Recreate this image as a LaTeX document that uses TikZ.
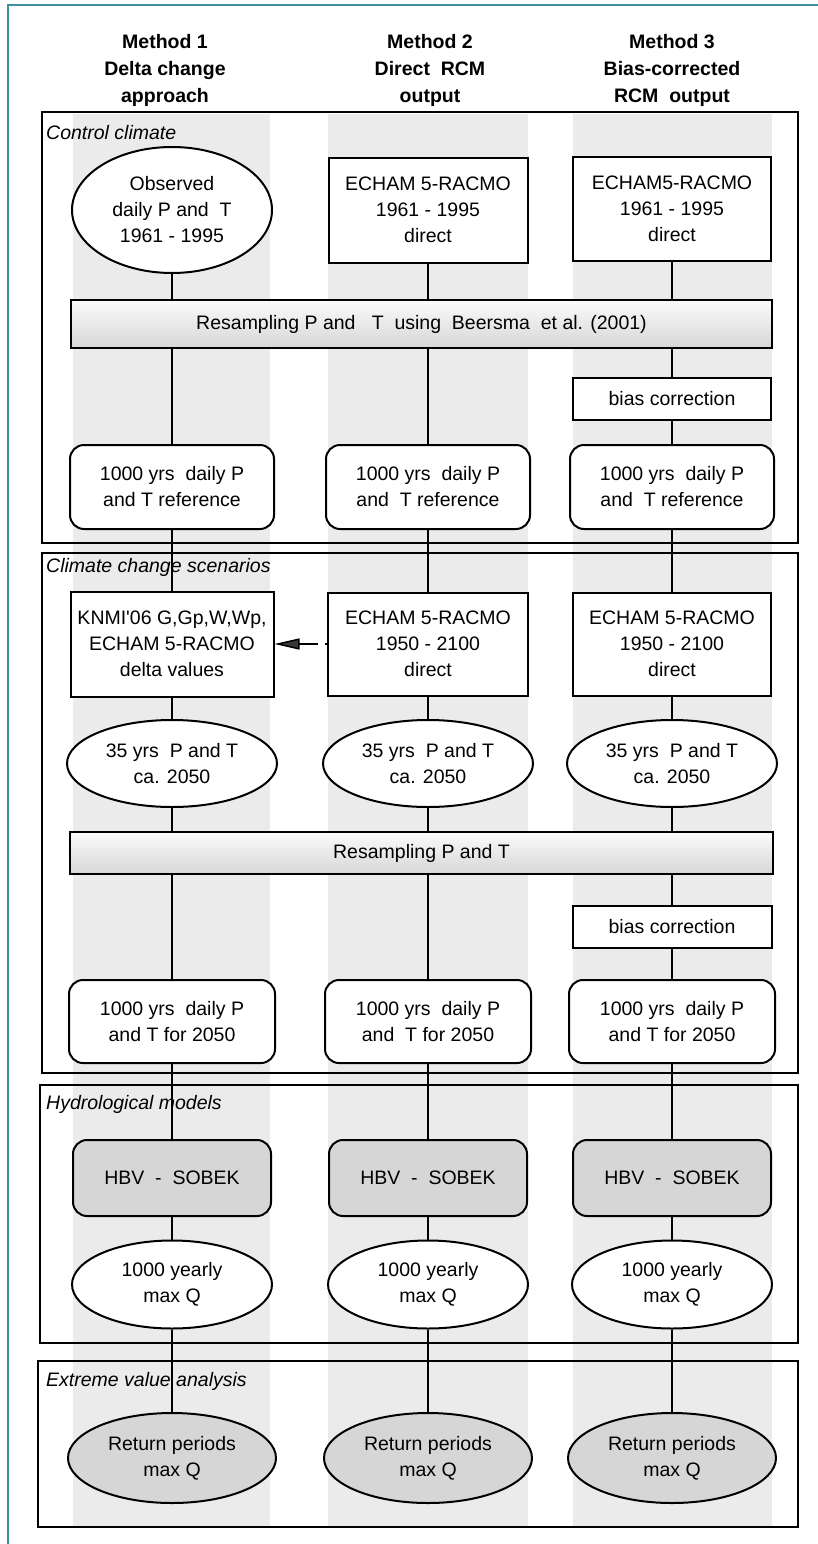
\documentclass[tikz,border=0pt]{standalone}
\usepackage{fontspec}
\setmainfont[Ligatures=TeXOff]{Liberation Sans}
\usetikzlibrary{shapes.geometric,arrows.meta}
\pgfdeclarelayer{stripes}
\pgfdeclarelayer{links}
\pgfsetlayers{stripes,links,main}
\definecolor{frameteal}{HTML}{3E8FA0}
\definecolor{stripegray}{HTML}{EBEBEB}
\definecolor{modelgray}{HTML}{D6D6D6}
\begin{document}
\begin{tikzpicture}[x=1pt,y=-1pt,
  every node/.style={font=\fontsize{19.5}{26}\selectfont, align=center, inner sep=0pt},
  procbox/.style={rectangle, draw, line width=2pt, fill=white},
  roundbox/.style={rectangle, rounded corners=14pt, draw, line width=2pt, fill=white},
  ovalnode/.style={ellipse, draw, line width=2pt, fill=white},
  modelbox/.style={roundbox, fill=modelgray},
  resultnode/.style={ovalnode, fill=modelgray},
  barbox/.style={rectangle, draw, line width=2pt, top color=gray!3, bottom color=gray!32},
  section/.style={draw, line width=2.2pt},
  seclabel/.style={anchor=west, font=\fontsize{19.5}{24}\selectfont\itshape},
  header/.style={font=\fontsize{19.5}{27}\selectfont\bfseries},
  link/.style={line width=2pt},
  dasharrow/.style={line width=2pt, dash pattern=on 2pt off 7pt on 24pt off 40pt,
     -{Triangle[length=25pt,width=11pt,fill=gray!45!black,line width=1.5pt]}},
  stripe/.style={fill=stripegray, draw=none}
]
\useasboundingbox (0,0) rectangle (818,1544);

% stripes
\begin{pgfonlayer}{stripes}
\fill[stripe] (73,114) rectangle (270,1526);
\fill[stripe] (328,114) rectangle (528,1526);
\fill[stripe] (573,114) rectangle (772,1526);
\end{pgfonlayer}

% teal frame
\draw[frameteal, line width=1.6pt] (8,1544) -- (8,5) -- (818,5);

% headers
\node[header] (h1) at (165,70) {Method 1\\Delta change\\approach};
\node[header] (h2) at (430,70) {Method 2\\Direct~ RCM\\output};
\node[header] (h3) at (672,70) {Method 3\\Bias-corrected\\RCM~ output};

% section frames
\draw[section] (42,112) rectangle (798,543);
\draw[section] (42,553) rectangle (798,1073);
\draw[section] (40,1085) rectangle (798,1343);
\draw[section] (38,1361) rectangle (798,1527);

\begin{pgfonlayer}{stripes}
\node[seclabel] (lab1) at (46,133) {Control climate};
\node[seclabel] (lab2) at (46,567) {Climate change scenarios};
\node[seclabel] (lab3) at (46,1104) {Hydrological models};
\node[seclabel] (lab4) at (46,1381) {Extreme value analysis};
\end{pgfonlayer}

% row 1
\node[ovalnode, minimum width=200pt, minimum height=126pt] (obs) at (172,210) {Observed\\daily P and~ T\\1961 - 1995};
\node[procbox, minimum width=199pt, minimum height=105pt] (echB) at (428,210) {ECHAM 5-RACMO\\1961 - 1995\\direct};
\node[procbox, minimum width=198pt, minimum height=104pt] (echC) at (672,209) {ECHAM5-RACMO\\1961 - 1995\\direct};

\node[barbox, minimum width=701pt, minimum height=48pt] (bar1) at (421.5,324) {Resampling P and~~ T~ using~ Beersma~ et al. (2001)};
\node[procbox, minimum width=198pt, minimum height=42pt] (biasA) at (672,399) {bias correction};

\node[roundbox, minimum width=204pt, minimum height=84pt] (refA) at (172,487) {1000 yrs~ daily P\\and T reference};
\node[roundbox, minimum width=204pt, minimum height=84pt] (refB) at (428,487) {1000 yrs~ daily P\\and~ T reference};
\node[roundbox, minimum width=204pt, minimum height=84pt] (refC) at (672,487) {1000 yrs~ daily P\\and~ T reference};

% row 2
\node[procbox, minimum width=203pt, minimum height=105pt] (knmi) at (172,644) {KNMI'06 G,Gp,W,Wp,\\ECHAM 5-RACMO\\delta values};
\node[procbox, minimum width=200pt, minimum height=103pt] (futB) at (428,644) {ECHAM 5-RACMO\\1950 - 2100\\direct};
\node[procbox, minimum width=198pt, minimum height=103pt] (futC) at (672,644) {ECHAM 5-RACMO\\1950 - 2100\\direct};

\node[ovalnode, minimum width=210pt, minimum height=87pt] (yrsA) at (172,763.5) {35 yrs~ P and T\\ca. 2050};
\node[ovalnode, minimum width=210pt, minimum height=87pt] (yrsB) at (428,763.5) {35 yrs~ P and T\\ca. 2050};
\node[ovalnode, minimum width=210pt, minimum height=87pt] (yrsC) at (672,763.5) {35 yrs~ P and T\\ca. 2050};

\node[barbox, minimum width=703pt, minimum height=42pt] (bar2) at (421.5,853) {Resampling P and T};
\node[procbox, minimum width=199pt, minimum height=42pt] (biasB) at (672,927) {bias correction};

\node[roundbox, minimum width=206pt, minimum height=83pt] (newA) at (172,1021.5) {1000 yrs~ daily P\\and T for 2050};
\node[roundbox, minimum width=206pt, minimum height=83pt] (newB) at (428,1021.5) {1000 yrs~ daily P\\and~ T for 2050};
\node[roundbox, minimum width=206pt, minimum height=83pt] (newC) at (672,1021.5) {1000 yrs~ daily P\\and T for 2050};

% hydrology
\node[modelbox, minimum width=198pt, minimum height=76pt] (hbvA) at (172,1178) {HBV~ -~ SOBEK};
\node[modelbox, minimum width=198pt, minimum height=76pt] (hbvB) at (428,1178) {HBV~ -~ SOBEK};
\node[modelbox, minimum width=198pt, minimum height=76pt] (hbvC) at (672,1178) {HBV~ -~ SOBEK};

\node[ovalnode, minimum width=200pt, minimum height=88pt] (qA) at (172,1284.5) {1000 yearly\\max Q};
\node[ovalnode, minimum width=200pt, minimum height=88pt] (qB) at (428,1284.5) {1000 yearly\\max Q};
\node[ovalnode, minimum width=200pt, minimum height=88pt] (qC) at (672,1284.5) {1000 yearly\\max Q};

% extreme values
\node[resultnode, minimum width=208pt, minimum height=90pt] (retA) at (172,1458) {Return periods\\max Q};
\node[resultnode, minimum width=208pt, minimum height=90pt] (retB) at (428,1458) {Return periods\\max Q};
\node[resultnode, minimum width=208pt, minimum height=90pt] (retC) at (672,1458) {Return periods\\max Q};

% connectors
\begin{pgfonlayer}{links}
\draw[link] (obs) -- (refA) -- (knmi) -- (yrsA) -- (newA) -- (hbvA) -- (qA) -- (retA);
\draw[link] (echB) -- (refB) -- (futB) -- (yrsB) -- (newB) -- (hbvB) -- (qB) -- (retB);
\draw[link] (echC) -- (biasA) -- (refC) -- (futC) -- (yrsC) -- (biasB) -- (newC) -- (hbvC) -- (qC) -- (retC);
\end{pgfonlayer}
\draw[dasharrow] (futB.west) -- (knmi.east);
\end{tikzpicture}
\end{document}
